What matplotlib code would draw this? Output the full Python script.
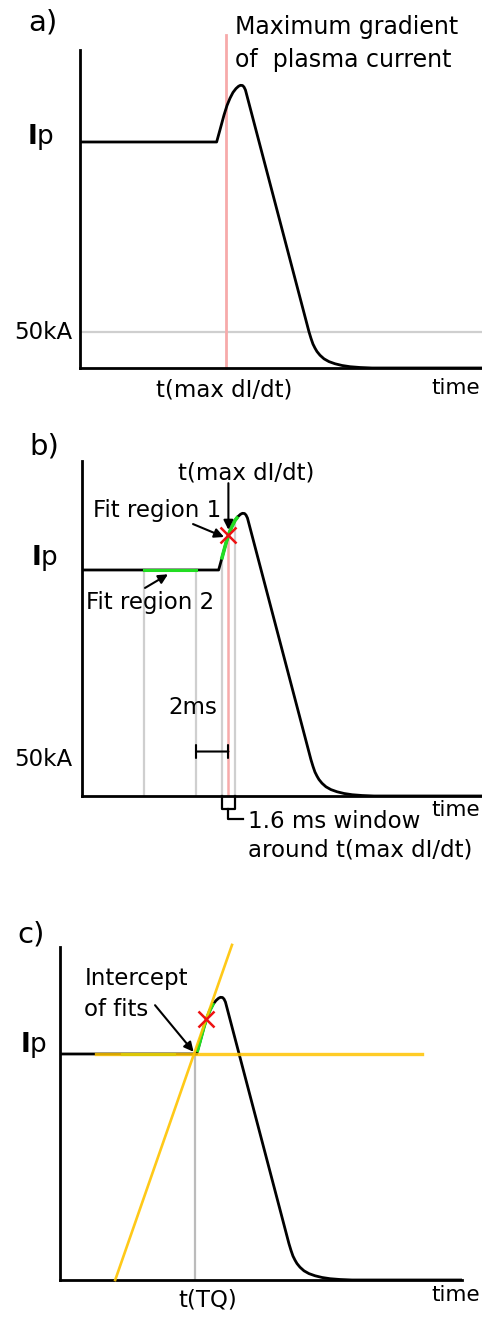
import numpy as np
import matplotlib.pyplot as plt

# schematic plasma current trace, time in ms and Ip in kA
t_ms = [0, 8.54, 8.75, 9.0, 9.19, 9.375, 9.56, 9.75, 9.91, 10.03, 10.16,
        10.25, 10.34,
        14.19, 14.31, 14.44, 14.56, 14.69, 14.81, 15.0, 15.25, 15.56,
        15.94, 16.38, 16.88, 17.5, 18.25, 25.1]
ip_ka = [315, 315, 332, 352.5, 366, 376, 384, 389.5, 392.7, 394, 393.7,
         391.6, 387.5,
         60.8, 50.6, 41.1, 33.4, 27.6, 23, 17.8, 12.8, 8.9,
         5.9, 3.5, 1.8, 0.7, 0, 0]

ip_50ka = 50
t_max_grad = 9.15          # t(max dI/dt)
t_tq = 8.45                # t(TQ), where the two fits cross

# panel b: vertical guide lines, fit regions, windows
guide_t = [3.875, 7.125, 8.75, 9.56]
fit2_t = [3.875, 7.125]              # flat part (fit region 2)
fit1_t = [8.72, 9.75]                # rising part (fit region 1)
window_t = [8.75, 9.56]              # 1.6 ms window
two_ms = [7.125, 9.15]               # 2ms bracket
fit1_c_t = [8.6, 9.56]               # green on the rise in panel c

# panel c: the two linear fits
fitA_t = [3.45, 10.75]
fitA_ip = [0, 467]
fitB_t = [2.25, 22.6]
fitB_ip = [315, 315]

W, H = 482, 1317
PX_MS = 16.0
PX_KA = 0.7175

BLACK = 'black'
GREY = '#cfcfcf'
PINK = '#f7aaaa'
GREEN = '#22dd22'
RED = '#ee1111'
GOLD = '#ffc400'

fig = plt.figure(figsize=(W / 100, H / 100), dpi=100)


def add_panel(left, right, top, bottom):
    ax = fig.add_axes([left / W, 1 - bottom / H, (right - left) / W, (bottom - top) / H])
    ax.set_xlim(0, (right - left) / PX_MS)
    ax.set_ylim(0, (bottom - top) / PX_KA)
    for s in ['top', 'right']:
        ax.spines[s].set_visible(False)
    for s in ['left', 'bottom']:
        ax.spines[s].set_linewidth(2.0)
        ax.spines[s].set_capstyle('projecting')
    ax.set_xticks([])
    ax.set_yticks([])
    ax.patch.set_alpha(0)
    return ax


def ftext(x, y, s, size=16, **kw):
    kw.setdefault('va', 'center')
    fig.text(x / W, 1 - y / H, s, fontsize=size, **kw)


def curve_at(t):
    return np.interp(t, t_ms, ip_ka)


def curve_piece(t0, t1):
    tt = [t0] + [t for t in t_ms if t0 < t < t1] + [t1]
    return tt, [curve_at(t) for t in tt]


# ---------------- a) ----------------
ax = add_panel(80, 482, 50, 368)
ax.axhline(ip_50ka, color=GREY, lw=1.6, zorder=1)
ax.plot([t_max_grad, t_max_grad], [0, 464], color=PINK, lw=2.0, zorder=1, clip_on=False)
ax.plot(t_ms, ip_ka, color=BLACK, lw=2.0, zorder=3, solid_joinstyle='round')

ftext(43, 22, 'a)', 21, ha='center')
ftext(27, 144, r'$\mathbf{I}$p', 19, ha='left', va='baseline')
ftext(43, 332, '50kA', 16.5, ha='center')
ftext(224, 390, 't(max dI/dt)', 16.5, ha='center')
ftext(480, 388, 'time', 15.5, ha='right')
ftext(235, 27, 'Maximum gradient', 17, ha='left')
ftext(235, 60, 'of  plasma current', 17, ha='left')

# ---------------- b) ----------------
ax = add_panel(82, 482, 461, 796)
for t in guide_t:
    ax.plot([t, t], [0, curve_at(t)], color=GREY, lw=1.6, zorder=1)
ax.plot([t_max_grad, t_max_grad], [0, curve_at(t_max_grad)], color=PINK, lw=1.8, zorder=1)
ax.plot(t_ms, ip_ka, color=BLACK, lw=2.0, zorder=3, solid_joinstyle='round')
ax.plot(fit2_t, [curve_at(t) for t in fit2_t], color=GREEN, lw=2.2, zorder=4)
tt, yy = curve_piece(*fit1_t)
ax.plot(tt, yy, color=GREEN, lw=2.6, zorder=4, solid_capstyle='butt')
ax.plot([t_max_grad], [curve_at(t_max_grad)], 'x', color=RED, ms=11, mew=1.8, zorder=6)

arw = dict(arrowstyle='-|>', color=BLACK, lw=1.5, mutation_scale=14, shrinkA=0, shrinkB=0)
ax.annotate('', xy=(t_max_grad, 371), xytext=(t_max_grad, 436), arrowprops=arw,
            annotation_clip=False, zorder=7)
ax.annotate('', xy=(8.875, 361), xytext=(6.94, 379), arrowprops=arw, zorder=7)
ax.annotate('', xy=(5.375, 309), xytext=(3.94, 290), arrowprops=arw, zorder=7)
ax.annotate('', xy=(two_ms[1], 62), xytext=(two_ms[0], 62),
            arrowprops=dict(arrowstyle='|-|, widthA=0.35, widthB=0.35', color=BLACK,
                            lw=1.5, mutation_scale=14, shrinkA=0, shrinkB=0))

# bracket under the axis for the 1.6 ms window
lo, hi = window_t
ax.plot([lo, lo, hi, hi], [0, -18, -18, 0], color=BLACK, lw=1.6, clip_on=False)
ax.plot([t_max_grad, t_max_grad, 10.08], [-18, -32.5, -32.5], color=BLACK, lw=1.6,
        clip_on=False)

ftext(44, 446, 'b)', 21, ha='center')
ftext(246, 473, 't(max dI/dt)', 16.5, ha='center')
ftext(93, 510, 'Fit region 1', 16.5, ha='left')
ftext(86, 602, 'Fit region 2', 16.5, ha='left')
ftext(168, 707, '2ms', 16.5, ha='left')
ftext(43, 760, '50kA', 16.5, ha='center')
ftext(31, 565, r'$\mathbf{I}$p', 19, ha='left', va='baseline')
ftext(480, 810, 'time', 15.5, ha='right')
ftext(248, 821, '1.6 ms window', 16.5, ha='left')
ftext(248, 850, 'around t(max dI/dt)', 16.5, ha='left')

# ---------------- c) ----------------
ax = add_panel(60, 462, 947, 1280)
ax.plot([t_tq, t_tq], [0, curve_at(t_tq)], color='#bbbbbb', lw=1.6, zorder=1)
ax.plot(t_ms, ip_ka, color=BLACK, lw=2.0, zorder=3, solid_joinstyle='round')
ax.plot(fit2_t, [curve_at(t) for t in fit2_t], color=GREEN, lw=2.2, zorder=4)
tt, yy = curve_piece(*fit1_c_t)
ax.plot(tt, yy, color=GREEN, lw=2.4, zorder=4)
ax.plot(fitA_t, fitA_ip, color=GOLD, lw=1.9, alpha=0.9, zorder=5, clip_on=False)
ax.plot(fitB_t, fitB_ip, color=GOLD, lw=2.4, alpha=0.85, zorder=5)
ax.plot([t_max_grad], [curve_at(t_max_grad)], 'x', color=RED, ms=11, mew=1.8, zorder=6)
ax.annotate('', xy=(t_tq - 0.1, 318), xytext=(5.94, 383), arrowprops=arw, zorder=7)

ftext(31, 934, 'c)', 21, ha='center')
ftext(85, 978, 'Intercept', 16.5, ha='left')
ftext(84, 1010, 'of fits', 16.5, ha='left')
ftext(20, 1052, r'$\mathbf{I}$p', 19, ha='left', va='baseline')
ftext(208, 1300, 't(TQ)', 16.5, ha='center')
ftext(480, 1295, 'time', 15.5, ha='right')

fig.savefig('out.png', dpi=100, facecolor='white')
